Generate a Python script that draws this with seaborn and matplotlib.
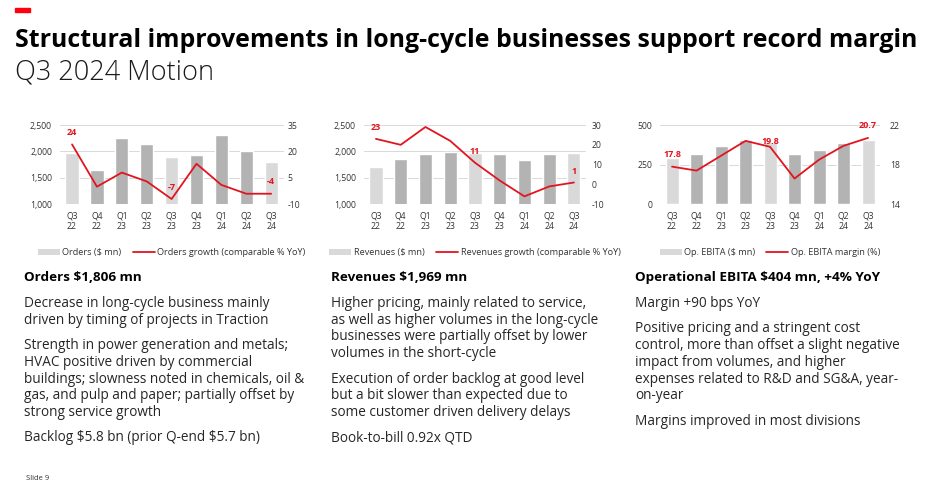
import numpy as np
import pandas as pd
import seaborn as sns
import matplotlib.pyplot as plt
from matplotlib.patches import Rectangle
from matplotlib.lines import Line2D
from matplotlib.patches import Patch

# data
quarters = ["Q3 22", "Q4 22", "Q1 23", "Q2 23", "Q3 23", "Q4 23", "Q1 24", "Q2 24", "Q3 24"]

orders = [1975, 1650, 2255, 2145, 1895, 1935, 2310, 2010, 1806]
orders_growth = [24, 0, 8, 3, -7, 13, 1, -4, -4]

revenues = [1705, 1857, 1958, 1996, 1965, 1958, 1840, 1958, 1969]
revenues_growth = [23, 20, 29, 22, 11, 2, -6, -1, 1]

ebita = [290, 318, 370, 405, 395, 318, 345, 389, 404]
ebita_margin = [17.8, 17.4, 18.9, 20.4, 19.8, 16.6, 18.5, 19.9, 20.7]

labelled = [0, 4, 8]

LIGHT = "#d9d9d9"
DARK = "#b3b3b3"
RED = "#e2141f"
TXT = "#333333"

sns.set_theme(style="white")
plt.rcParams["font.family"] = ["Open Sans", "DejaVu Sans"]
plt.rcParams["axes.unicode_minus"] = False

W, H = 931, 495
fig = plt.figure(figsize=(W / 100, H / 100), dpi=100)


def px_rect(left, top, width, height):
    return [left / W, 1 - (top + height) / H, width / W, height / H]


def combo_chart(rect, bars, line, left_lim, left_ticks, right_lim, right_ticks,
                bar_name, line_name, fmt, rpad, offsets):
    ax = fig.add_axes(rect)
    df = pd.DataFrame({
        "quarter": quarters,
        "value": bars,
        "kind": ["q3" if q.startswith("Q3") else "other" for q in quarters],
    })
    sns.barplot(data=df, x="quarter", y="value", hue="kind",
                palette={"q3": LIGHT, "other": DARK}, saturation=1,
                width=0.53, dodge=False, legend=False, ax=ax)
    ax.set_xlim(-0.5, len(quarters) - 0.5)
    ax.set_ylim(*left_lim)
    ax.set_yticks(left_ticks)
    ax.set_yticklabels([f"{t:,}" for t in left_ticks])
    ax.set_xticks(range(len(quarters)))
    ax.set_xticklabels([q.replace(" ", "\n") for q in quarters])
    ax.set_xlabel("")
    ax.set_ylabel("")
    ax.set_axisbelow(True)
    ax.yaxis.grid(True, color="#d9d9d9", lw=0.7)
    ax.tick_params(axis="y", length=0, labelsize=6.2, colors=TXT, pad=5.5)
    ax.tick_params(axis="x", length=0, labelsize=6.2, colors=TXT, pad=5.5)

    ax2 = ax.twinx()
    x = np.arange(len(quarters))
    sns.lineplot(x=x, y=line, ax=ax2, color=RED, lw=1.3)
    ax2.set_ylim(*right_lim)
    ax2.set_yticks(right_ticks)
    ax2.tick_params(axis="y", length=0, labelsize=6.2, colors=TXT, pad=rpad)
    ax2.set_ylabel("")
    for i, off in zip(labelled, offsets):
        ax2.annotate(fmt.format(line[i]), (x[i], line[i]), xytext=(0, off),
                     textcoords="offset points", ha="center", va="center",
                     color=RED, fontsize=6.5, fontweight="bold")

    for a in (ax, ax2):
        for s in a.spines.values():
            s.set_visible(False)

    handles = [Patch(facecolor=LIGHT, edgecolor="none", label=bar_name),
               Line2D([0], [0], color=RED, lw=1.3, label=line_name)]
    leg = ax.legend(handles=handles, loc="center", bbox_to_anchor=(0.5, -0.61),
                    ncol=2, frameon=False, fontsize=6.6, handlelength=2.4,
                    handleheight=0.75, handletextpad=0.3, columnspacing=1.2,
                    labelcolor=TXT)
    for t in leg.get_texts():
        t.set_parse_math(False)


combo_chart(px_rect(59.6, 125, 224, 79.3), orders, orders_growth,
            (1000, 2500), [1000, 1500, 2000, 2500], (-10, 35), [-10, 5, 20, 35],
            "Orders ($ mn)", "Orders growth (comparable % YoY)", "{:.0f}", 3,
            [8.5, 8.5, 8.5])
combo_chart(px_rect(363.6, 125, 222.7, 79.3), revenues, revenues_growth,
            (1000, 2500), [1000, 1500, 2000, 2500], (-10, 30), [-10, 0, 10, 20, 30],
            "Revenues ($ mn)", "Revenues growth (comparable % YoY)", "{:.0f}", 4,
            [8, 8, 8])
combo_chart(px_rect(659.8, 125, 220.5, 79.3), ebita, ebita_margin,
            (0, 500), [0, 250, 500], (14, 22), [14, 18, 22],
            "Op. EBITA ($ mn)", "Op. EBITA margin (%)", "{:.1f}", 7,
            [9, 3.5, 9])

# header
fig.patches.append(Rectangle((15 / W, 1 - 11.5 / H), 15.5 / W, 3.2 / H,
                             transform=fig.transFigure, color="#ff000f"))
fig.text(15 / W, 1 - 47 / H,
         "Structural improvements in long-cycle businesses support record margin",
         fontsize=17.9, fontweight="bold", color="#000000", va="baseline")
fig.text(15 / W, 1 - 79 / H, "Q3 2024 Motion", fontsize=19.5, fontweight="light",
         color="#1a1a1a", va="baseline")

# text columns
columns = [
    (24, "Orders $1,806 mn", [
        ["Decrease in long-cycle business mainly",
         "driven by timing of projects in Traction"],
        ["Strength in power generation and metals;",
         "HVAC positive driven by commercial",
         "buildings; slowness noted in chemicals, oil &",
         "gas, and pulp and paper; partially offset by",
         "strong service growth"],
        ["Backlog $5.8 bn (prior Q-end $5.7 bn)"],
    ]),
    (331, "Revenues $1,969 mn", [
        ["Higher pricing, mainly related to service,",
         "as well as higher volumes in the long-cycle",
         "businesses were partially offset by lower",
         "volumes in the short-cycle"],
        ["Execution of order backlog at good level",
         "but a bit slower than expected due to",
         "some customer driven delivery delays"],
        ["Book-to-bill 0.92x QTD"],
    ]),
    (635, "Operational EBITA $404 mn, +4% YoY", [
        ["Margin +90 bps YoY"],
        ["Positive pricing and a stringent cost",
         "control, more than offset a slight negative",
         "impact from volumes, and higher",
         "expenses related to R&D and SG&A, year-",
         "on-year"],
        ["Margins improved in most divisions"],
    ]),
]

for x0, heading, paras in columns:
    y = 277.5
    fig.text(x0 / W, 1 - y / H, heading, fontsize=9.7, fontweight="bold",
             color="#000000", va="center", parse_math=False)
    y += 26
    for para in paras:
        for line in para:
            fig.text(x0 / W, 1 - y / H, line, fontsize=9.8, color="#262626",
                     va="center", parse_math=False)
            y += 16.7
        y += 8.8

fig.text(26 / W, 1 - 478 / H, "Slide 9", fontsize=5.5, color=TXT, va="center")

fig.savefig("out.png", dpi=100)
